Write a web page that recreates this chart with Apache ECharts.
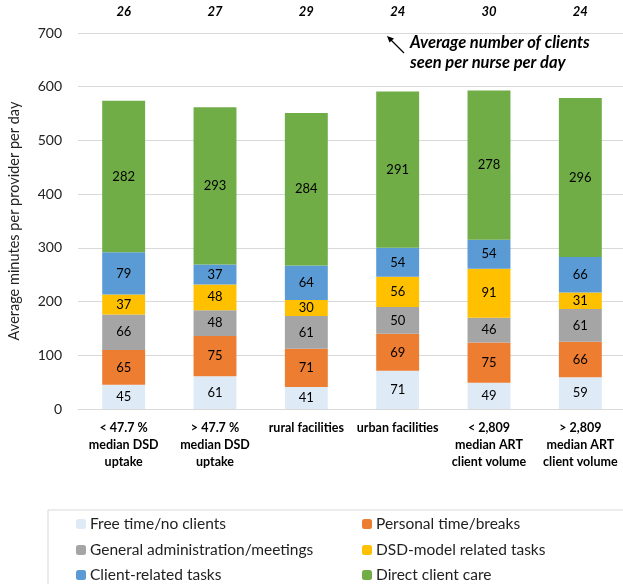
<!DOCTYPE html>
<html><head><meta charset="utf-8">
<script src="https://cdn.jsdelivr.net/npm/echarts@6/dist/echarts.min.js"></script>
<style>html,body{margin:0;padding:0;background:#fff}#c{width:623px;height:584px}</style>
</head><body><div id="c"></div>
<script>
const categories = ['< 47.7 %\nmedian DSD\nuptake', '> 47.7 %\nmedian DSD\nuptake', 'rural facilities', 'urban facilities', '< 2,809\nmedian ART\nclient volume', '> 2,809\nmedian ART\nclient volume'];
const clientsPerNurse = [26, 27, 29, 24, 30, 24];
const freeTime = [45, 61, 41, 71, 49, 59];
const personalTime = [65, 75, 71, 69, 75, 66];
const generalAdmin = [66, 48, 61, 50, 46, 61];
const dsdTasks = [37, 48, 30, 56, 91, 31];
const clientTasks = [79, 37, 64, 54, 54, 66];
const directCare = [282, 293, 284, 291, 278, 296];
const yTicks = [0, 100, 200, 300, 400, 500, 600, 700];

const seriesDefs = [
  ['Free time/no clients', freeTime, '#DEEBF7'],
  ['Personal time/breaks', personalTime, '#ED7D31'],
  ['General administration/meetings', generalAdmin, '#A5A5A5'],
  ['DSD-model related tasks', dsdTasks, '#FFC000'],
  ['Client-related tasks', clientTasks, '#5B9BD5'],
  ['Direct client care', directCare, '#70AD47']
];
const FONT = 'Lato';
const legendPos = [[76, 516], [362, 516], [76, 542], [362, 542], [76, 567], [362, 567]];
const chart = echarts.init(document.getElementById('c'));
chart.setOption({
  animation: false,
  textStyle: {fontFamily: FONT},
  grid: {left: 78, right: -3, top: 33, bottom: 175, outerBoundsMode: 'none', containLabel: false},
  legend: seriesDefs.map((s, i) => ({
    left: legendPos[i][0], top: legendPos[i][1], orient: 'horizontal', itemWidth: 10, itemHeight: 10, itemGap: 4,
    padding: 0, data: [s[0]],
    textStyle: {fontFamily: FONT, fontSize: 15.5, color: '#222', padding: [0, 0, 0, -1]}
  })),
  xAxis: [
    {type: 'category', data: categories, position: 'bottom',
     axisLine: {lineStyle: {color: '#D9D9D9'}}, axisTick: {show: false},
     axisLabel: {interval: 0, fontFamily: FONT, fontWeight: 'bold', fontSize: 12.5, color: '#000', lineHeight: 17, margin: 10}},
    {type: 'category', data: clientsPerNurse, position: 'top',
     axisLine: {show: false}, axisTick: {show: false},
     axisLabel: {interval: 0, fontFamily: FONT, fontWeight: 'bold', fontStyle: 'italic', fontSize: 13, color: '#000', margin: 15}}
  ],
  yAxis: {type: 'value', min: yTicks[0], max: yTicks[yTicks.length - 1], interval: 100,
    name: 'Average minutes per provider per day', nameLocation: 'middle', nameGap: 56,
    nameTextStyle: {fontFamily: FONT, fontSize: 14.5, color: '#222'},
    axisLine: {show: false}, axisTick: {show: false},
    axisLabel: {fontFamily: FONT, fontSize: 14, color: '#222', margin: 16},
    splitLine: {lineStyle: {color: '#D9D9D9'}}},
  series: seriesDefs.map(([name, data, color]) => ({
    name, type: 'bar', stack: 'total', data, barWidth: '47%', xAxisIndex: 0,
    itemStyle: {color},
    label: {show: true, position: 'inside', color: '#000', fontFamily: FONT, fontSize: 13}
  })),
  graphic: [
    {type: 'rect', shape: {x: 48, y: 510, width: 600, height: 90}, style: {fill: 'none', stroke: '#D9D9D9', lineWidth: 1}, z: -1},
    {type: 'line', shape: {x1: 404, y1: 53, x2: 390, y2: 39}, style: {stroke: '#000', lineWidth: 1.2}},
    {type: 'polygon', shape: {points: [[387, 36], [394, 38.5], [389.5, 42.5]]}, style: {fill: '#000'}},
    {type: 'text', left: 410, top: 33, style: {text: 'Average number of clients\nseen per nurse per day', fontFamily: FONT, fontWeight: 'bold', fontStyle: 'italic', fontSize: 16.5, lineHeight: 20, fill: '#000'}}
  ]
});
</script></body></html>
